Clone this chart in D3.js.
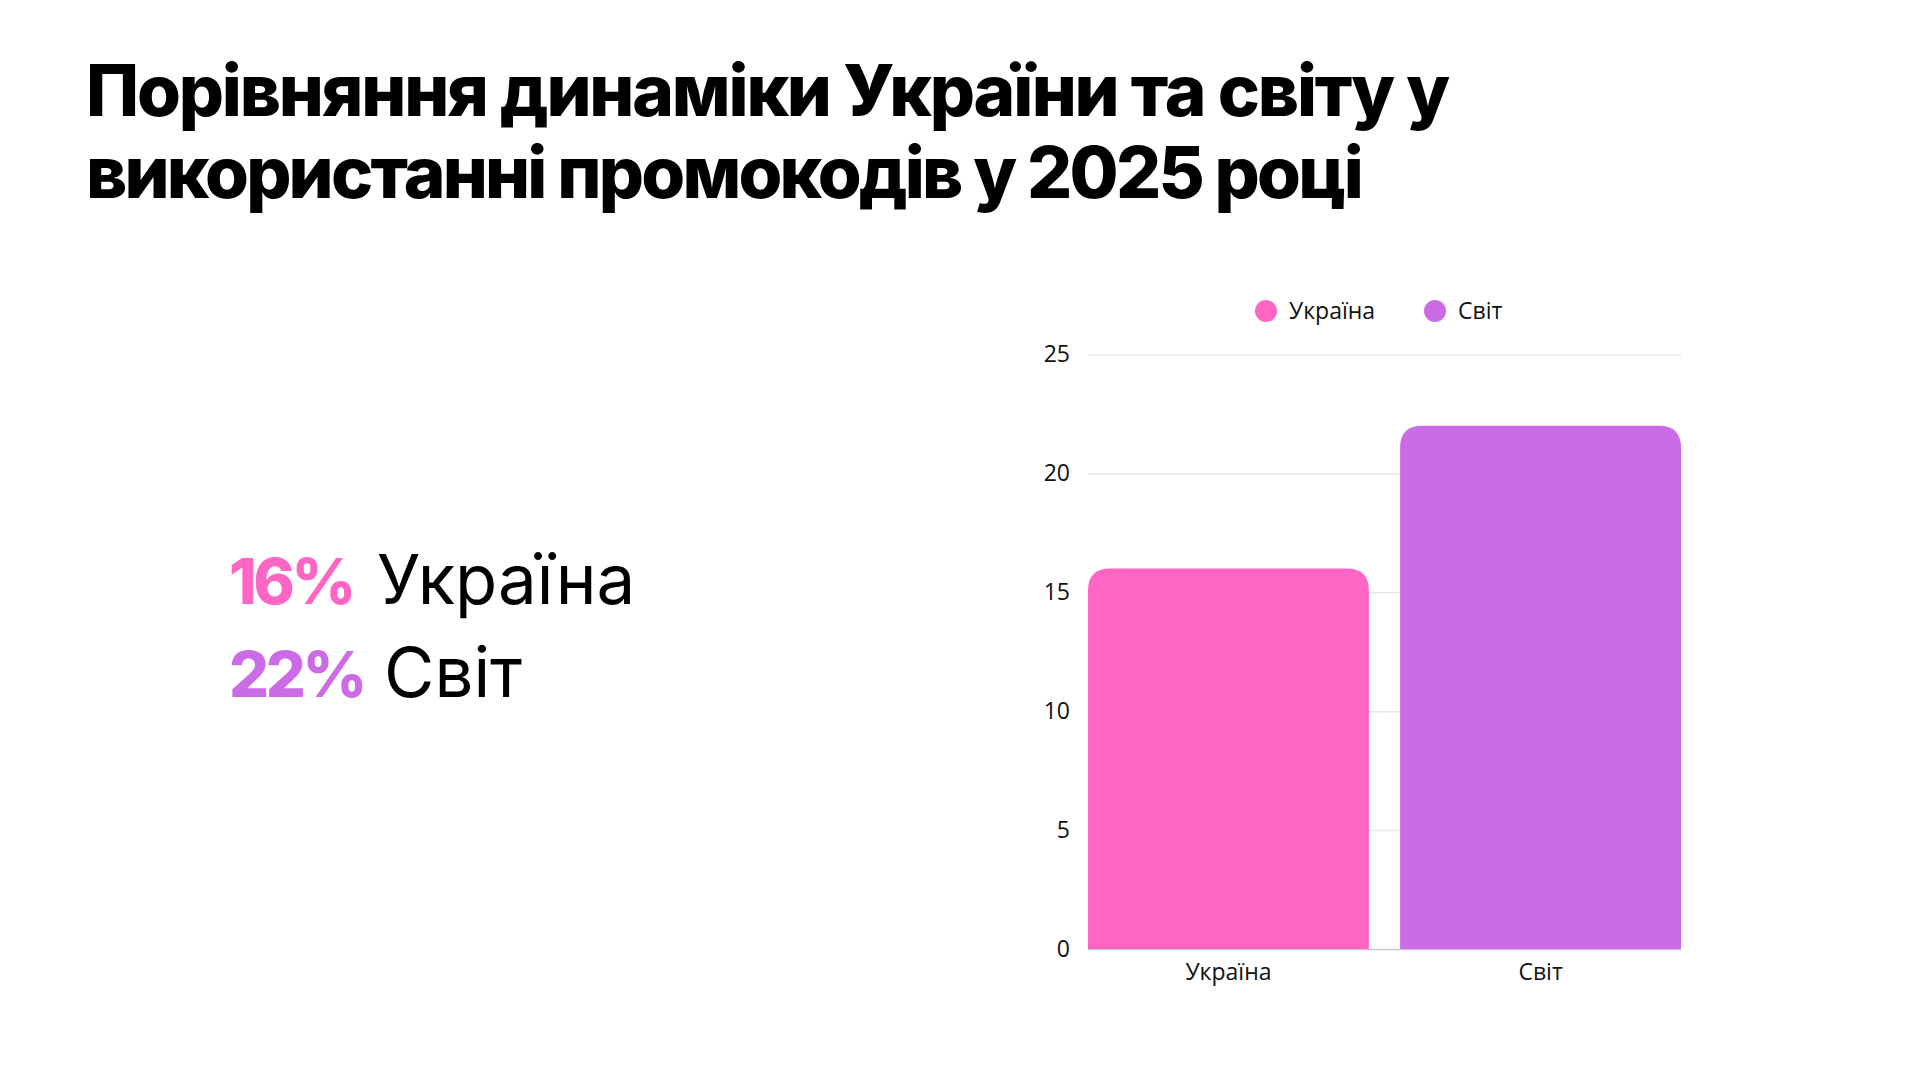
<!DOCTYPE html>
<html>
<head>
<meta charset="utf-8">
<script src="https://cdn.jsdelivr.net/npm/d3@7"></script>
<style>
  html, body { margin: 0; padding: 0; background: #fff; }
  svg { display: block; }
</style>
</head>
<body>
<svg id="chart" width="1920" height="1080"></svg>
<script>
const titleLines = ["Порівняння динаміки України та світу у", "використанні промокодів у 2025 році"];
const categories = ["Україна", "Світ"];
const values = [16, 22];
const colors = ["#FF66C4", "#CB6CE6"];
const yTicks = [0, 5, 10, 15, 20, 25];
const summaryPct = ["16%", "22%"];

const svg = d3.select("#chart");
const headFont = "Inter, 'Open Sans', sans-serif";

// squeeze a text to a wanted width with letter-spacing (Montserrat is not installed)
function fitWidth(sel, target) {
    sel.each(function() {
        let n = this.getNumberOfChars();
        let w = this.getComputedTextLength();
        d3.select(this).style("letter-spacing", ((target - w) / n) + "px");
    });
}

// title
const titleWidths = [1362, 1275];
svg.append("g")
    .selectAll("text")
    .data(titleLines)
    .join("text")
    .attr("x", 86)
    .attr("y", (d, i) => 116 + i * 82)
    .style("font-family", headFont)
    .style("font-weight", 800)
    .style("font-size", "71px")
    .style("fill", "#000")
    .text(d => d)
    .each(function(d, i) { fitWidth(d3.select(this), titleWidths[i]); });

// big summary on the left
const pctWidths = [124, 135];
const wordX = [377, 384];
let summary = svg.append("g");
categories.forEach((c, i) => {
    let yy = 604 + i * 93;
    summary.append("text")
        .attr("x", 229)
        .attr("y", yy)
        .style("font-family", headFont)
        .style("font-weight", 800)
        .style("font-size", "63px")
        .style("fill", colors[i])
        .text(summaryPct[i])
        .call(fitWidth, pctWidths[i]);
    summary.append("text")
        .attr("x", wordX[i])
        .attr("y", yy)
        .style("font-family", headFont)
        .style("font-weight", 400)
        .style("font-size", "69px")
        .style("fill", "#000")
        .text(c);
});

// bar chart
const plotLeft = 1088, plotRight = 1681, plotTop = 354.5, plotBottom = 949;

const x = d3.scaleBand()
    .domain(categories)
    .range([plotLeft, plotRight])
    .paddingInner(0.1)
    .paddingOuter(0);

const y = d3.scaleLinear()
    .domain([0, 25])
    .range([plotBottom, plotTop]);

const tickFont = "'Open Sans', sans-serif";

// gridlines + y labels
let yAxis = svg.append("g")
    .attr("transform", `translate(${plotLeft},0)`)
    .call(d3.axisLeft(y).tickValues(yTicks).tickSize(-(plotRight - plotLeft)).tickPadding(18));
yAxis.select(".domain").remove();
yAxis.selectAll(".tick line")
    .attr("stroke", d => d == 0 ? "#c8c8c8" : "#e6e6e6")
    .attr("stroke-width", 1.5);
yAxis.selectAll(".tick text")
    .style("font-family", tickFont)
    .style("font-size", "23px")
    .style("fill", "#111");

// bars, rounded on top only
const r = 22;
svg.append("g")
    .selectAll("path")
    .data(categories)
    .join("path")
    .attr("fill", (d, i) => colors[i])
    .attr("d", (d, i) => {
        let x0 = x(d), x1 = x(d) + x.bandwidth(), y0 = y(values[i]), y1 = y(0);
        return `M${x0},${y1} L${x0},${y0 + r} Q${x0},${y0} ${x0 + r},${y0} L${x1 - r},${y0} Q${x1},${y0} ${x1},${y0 + r} L${x1},${y1} Z`;
    });

// x labels
let xAxis = svg.append("g")
    .attr("transform", `translate(0,${plotBottom})`)
    .call(d3.axisBottom(x).tickSize(0).tickPadding(15));
xAxis.select(".domain").remove();
xAxis.selectAll(".tick text")
    .style("font-family", tickFont)
    .style("font-size", "23px")
    .style("fill", "#111");

// legend, centred over the plot
let legend = svg.append("g");
let cx = [1266, 1435];
categories.forEach((c, i) => {
    legend.append("circle")
        .attr("cx", cx[i])
        .attr("cy", 311)
        .attr("r", 11)
        .attr("fill", colors[i]);
    legend.append("text")
        .attr("x", cx[i] + 23)
        .attr("y", 319)
        .style("font-family", tickFont)
        .style("font-size", "23px")
        .style("fill", "#111")
        .text(c);
});
</script>
</body>
</html>
